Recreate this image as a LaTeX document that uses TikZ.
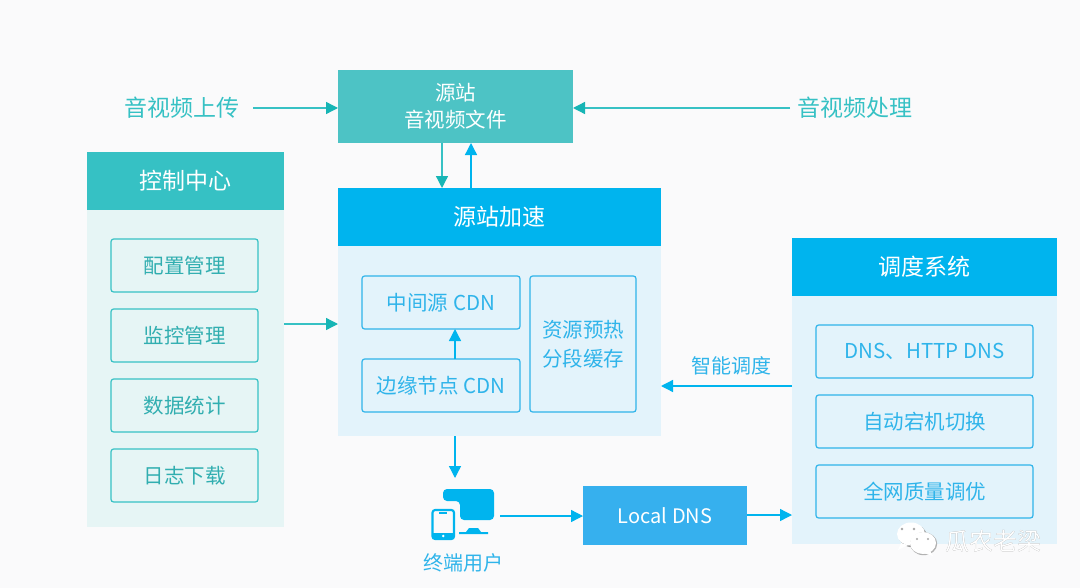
\documentclass[tikz,border=0pt]{standalone}
\usepackage{fontspec}
\setmainfont{Noto Sans CJK SC}
\usetikzlibrary{arrows.meta}
\definecolor{pagebg}{HTML}{FAFAFB}
\definecolor{teal}{HTML}{36C1C4}
\definecolor{tealsrc}{HTML}{4DC3C5}
\definecolor{tealhead}{HTML}{17B5B5}
\definecolor{tealpale}{HTML}{E6F5F5}
\definecolor{sky}{HTML}{00B4EE}
\definecolor{skypale}{HTML}{E3F3FB}
\definecolor{skydns}{HTML}{36B0EE}
\definecolor{skytext}{HTML}{2FB4EA}
\newcommand{\fs}[1]{\fontsize{#1*3/4}{#1}\selectfont}
\newcommand{\fontpx}[1]{\fontsize{\dimexpr#1pt*3/4\relax}{\dimexpr#1pt*9/10\relax}\selectfont}
\tikzset{
  x=0.75pt, y=-0.75pt,
  panel/.style={draw=none, inner sep=0pt, outer sep=0pt, anchor=north west},
  header/.style={panel, text=white, font=\fontpx{23}},
  tealitem/.style={panel, draw=teal, line width=0.9pt, rounded corners=2pt, text=teal!90!black, font=\fontpx{20.5}, align=center},
  skyitem/.style={panel, draw=skytext, line width=0.9pt, rounded corners=2pt, text=skytext, font=\fontpx{20.5}, align=center},
  tealarrow/.style={draw=teal, line width=1pt, -{Triangle[length=9pt,width=9pt,color=tealhead]}, shorten >=0pt},
  skyarrow/.style={draw=sky, line width=1pt, -{Triangle[length=9pt,width=9pt]}},
  sidelabel/.style={text=teal, font=\fontpx{23}, inner sep=0pt},
  skylabel/.style={text=skytext, font=\fontpx{20}, inner sep=0pt},
}
\newcommand{\boxat}[6]{% style, name, x0, y0, x1, y1 set through minimum sizes
  \pgfmathsetmacro{\bw}{(#5-#3)*0.75}\pgfmathsetmacro{\bh}{(#6-#4)*0.75}}
\begin{document}
\begin{tikzpicture}
\useasboundingbox (0,0) rectangle (1080,588);
\fill[pagebg] (0,0) rectangle (1080,588);

% source station
\node[header, fill=tealsrc, minimum width=176.25pt, minimum height=54.75pt, font=\fontpx{20.5}, align=center] (src) at (338,70) {源站\\[2pt]音视频文件};
\node[sidelabel] (upload) at (182,108) {音视频上传};
\node[sidelabel] (process) at (855,108) {音视频处理};
\coordinate (srcL) at (338,108);
\coordinate (srcR) at (573,108);

% control centre
\node[panel, fill=tealpale, minimum width=147.75pt, minimum height=237.75pt] (ctlbody) at (87,527) [anchor=south west] {};
\node[header, fill=teal, minimum width=147.75pt, minimum height=43.5pt] (ctl) at (87,152) {控制中心};
\node[tealitem, minimum width=110.25pt, minimum height=39.75pt] (c1) at (111,239) {配置管理};
\node[tealitem, minimum width=110.25pt, minimum height=39.75pt] (c2) at (111,309) {监控管理};
\node[tealitem, minimum width=110.25pt, minimum height=39.75pt] (c3) at (111,379) {数据统计};
\node[tealitem, minimum width=110.25pt, minimum height=39.75pt] (c4) at (111,449) {日志下载};

% origin acceleration
\node[panel, fill=skypale, minimum width=242.25pt, minimum height=142.5pt] (accbody) at (338,246) {};
\node[header, fill=sky, minimum width=242.25pt, minimum height=43.5pt] (acc) at (338,188) {源站加速};
\node[skyitem, minimum width=118.5pt, minimum height=39.75pt] (mid) at (362,276) {中间源 CDN};
\node[skyitem, minimum width=118.5pt, minimum height=39.75pt] (edge) at (362,359) {边缘节点 CDN};
\node[skyitem, minimum width=79.5pt, minimum height=102pt] (res) at (530,276) {资源预热\\[3pt]分段缓存};

% scheduling system
\node[panel, fill=skypale, minimum width=198.75pt, minimum height=186pt] (schbody) at (792,296) {};
\node[header, fill=sky, minimum width=198.75pt, minimum height=43.5pt] (sch) at (792,238) {调度系统};
\node[skyitem, minimum width=162.75pt, minimum height=39.75pt] (s1) at (816,325) {DNS、HTTP DNS};
\node[skyitem, minimum width=162.75pt, minimum height=39.75pt] (s2) at (816,395) {自动宕机切换};
\node[skyitem, minimum width=162.75pt, minimum height=39.75pt] (s3) at (816,465) {全网质量调优};
\node[skylabel] (smart) at (731,366) {智能调度};

% local DNS
\node[panel, fill=skydns, text=white, font=\fontpx{20}, minimum width=123pt, minimum height=44.25pt] (dns) at (583,486) {Local DNS};

% end-user devices
\fill[sky, rounded corners=3pt] (443,489) -- (494,489) -- (494,520) -- (460,520) -- (460,501) -- (443,501) -- cycle;
\fill[sky] (459,532) -- (466,532) -- (469,528) -- (478,528) -- (481,532) -- (488,532) -- (488,534) -- (459,534) -- cycle;
\draw[sky, line width=1.6pt, rounded corners=2pt, fill=pagebg] (432.5,510) rectangle (454,539);
\fill[sky] (432.5,533) rectangle (454,539);
\fill[white] (443.2,536) circle (1pt);
\draw[sky, line width=1pt] (439,513) -- (447,513);
\coordinate (device) at (463,478);
\coordinate (deviceR) at (500,516);
\node[skylabel] (user) at (463,563) {终端用户};

% connectors
\draw[tealarrow] ([xshift=-85*0.75pt]srcL) -- (srcL);
\draw[tealarrow] ([xshift=217*0.75pt]srcR) -- (srcR);
\draw[tealarrow] (src.south -| 442,0) -- (acc.north -| 442,0);
\draw[skyarrow] (acc.north -| 471,0) -- (src.south -| 471,0);
\draw[tealarrow] (ctlbody.east |- 0,324) -- (accbody.west |- 0,324);
\draw[skyarrow] (edge.north -| 455,0) -- (mid.south -| 455,0);
\draw[skyarrow] (schbody.west |- 0,386) -- (accbody.east |- 0,386);
\draw[skyarrow] (accbody.south -| 455,0) -- (455,478);
\draw[skyarrow] (deviceR) -- (dns.west |- deviceR);
\draw[skyarrow] (dns.east |- 0,515) -- (schbody.west |- 0,515);

% account mark in the lower right corner
\begin{scope}[shift={(0.7,0.8)}]
  \fill[black!40] (912,535) ellipse (14 and 11.5);
  \fill[black!40] (923,543) ellipse (13 and 11);
\end{scope}
\fill[white] (911,534) ellipse (14 and 11.5);
\fill[white] (901,543) -- (898,550) -- (908,545) -- cycle;
\fill[black!30] (923.7,543.7) ellipse (13.5 and 11.5);
\fill[white] (923,543) ellipse (13 and 11);
\fill[white] (930,551) -- (933,556) -- (923,553) -- cycle;
\fill[black!35] (902,529) circle (1.3) (914,529) circle (1.3) (917,539) circle (1.2) (928,539) circle (1.2);
\node[inner sep=0pt, text=black!45, font=\fontpx{24}] (markshade) at (993.6,541.6) {瓜农老梁};
\node[inner sep=0pt, text=white, font=\fontpx{24}] (mark) at (993,541) {瓜农老梁};
\end{tikzpicture}
\end{document}
